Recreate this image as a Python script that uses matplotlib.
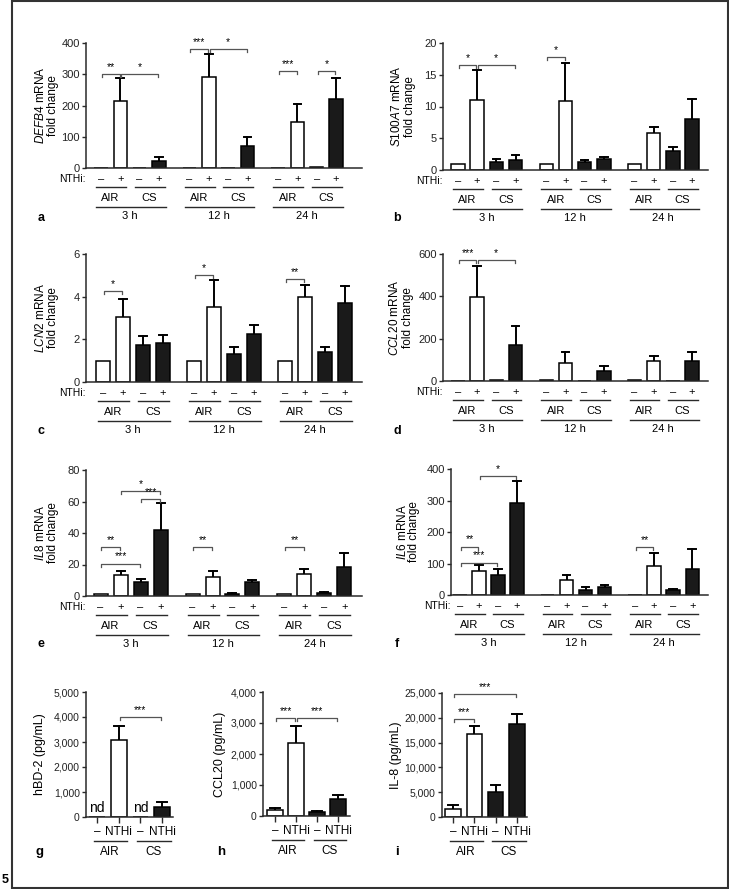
import numpy as np
import matplotlib
matplotlib.use('Agg')
import matplotlib.pyplot as plt
from matplotlib import transforms
from matplotlib.patches import Rectangle
from matplotlib.ticker import FuncFormatter

plt.rcParams['font.family'] = ['Liberation Sans', 'DejaVu Sans']
plt.rcParams['mathtext.fontset'] = 'custom'
plt.rcParams['mathtext.rm'] = 'Liberation Sans'
plt.rcParams['mathtext.it'] = 'Liberation Sans:italic'

# ---- data ----
hours = ['3 h', '12 h', '24 h']
groups = ['AIR', 'CS']
nthi_signs = ['–', '+', '–', '+']
nthi_labels = ['–', 'NTHi', '–', 'NTHi']

defb4_mean = [1, 214, 1, 23, 1, 291, 1, 72, 1, 147, 2, 221]
defb4_upper = [1, 289, 1, 35, 1, 364, 1, 98, 1, 205, 2, 288]

s100a7_mean = [1, 11.05, 1.3, 1.6, 1, 10.9, 1.2, 1.8, 1, 5.8, 3.0, 8.0]
s100a7_upper = [1, 15.8, 1.8, 2.3, 1, 16.8, 1.5, 2.1, 1, 6.8, 3.7, 11.2]

lcn2_mean = [1, 3.03, 1.74, 1.84, 1, 3.5, 1.29, 2.24, 1, 3.97, 1.41, 3.69]
lcn2_upper = [1, 3.88, 2.17, 2.2, 1, 4.76, 1.65, 2.67, 1, 4.55, 1.62, 4.5]

ccl20_mean = [2, 396, 5, 169, 3, 85, 1, 49, 4, 93, 2, 95]
ccl20_upper = [2, 541, 5, 261, 3, 138, 1, 70, 4, 119, 2, 136]

il8_mean = [1, 13.4, 8.7, 41.6, 1, 12.1, 1.5, 9.1, 1, 14.0, 2.1, 18.3]
il8_upper = [1, 15.9, 10.8, 58.8, 1, 15.7, 1.7, 10.2, 1, 17.2, 2.3, 27.0]

il6_mean = [1, 77.5, 62.6, 292.8, 1, 48.8, 17, 24.4, 1, 93.4, 14.9, 81.7]
il6_upper = [1, 94.4, 82.8, 362.9, 1, 64.7, 24.4, 33, 1, 133.7, 19, 146.4]

hbd2_mean = [np.nan, 3083, np.nan, 402]
hbd2_upper = [np.nan, 3660, np.nan, 603]

ccl20p_mean = [183, 2340, 119, 550]
ccl20p_upper = [248, 2900, 151, 668]

il8p_mean = [1613, 16800, 4973, 18750]
il8p_upper = [2419, 18280, 6452, 20830]

# significance brackets: (bar i, bar j, height, stars)
defb4_sig = [(0, 1, 302, '**'), (1, 3, 302, '*'), (4, 5, 382, '***'), (5, 7, 382, '*'),
             (8, 9, 310, '***'), (10, 11, 310, '*')]
s100a7_sig = [(0, 1, 16.6, '*'), (1, 3, 16.6, '*'), (4, 5, 17.8, '*')]
lcn2_sig = [(0, 1, 4.25, '*'), (4, 5, 5.02, '*'), (8, 9, 4.83, '**')]
ccl20_sig = [(0, 1, 573, '***'), (1, 3, 573, '*')]
il8_sig = [(0, 1, 31, '**'), (0, 2, 20.6, '***'), (2, 3, 61.6, '***'), (1, 3, 66.7, '*'),
           (4, 5, 31, '**'), (8, 9, 31, '**')]
il6_sig = [(0, 1, 153.8, '**'), (0, 2, 103, '***'), (1, 3, 376.7, '*'), (8, 9, 151.7, '**')]
hbd2_sig = [(1, 3, 3981, '***')]
ccl20p_sig = [(0, 1, 3148, '***'), (1, 3, 3148, '***')]
il8p_sig = [(0, 1, 19825, '***'), (0, 3, 24800, '***')]

pos = [0, 1, 2, 3, 4.6, 5.6, 6.6, 7.6, 9.2, 10.2, 11.2, 12.2]
pos4 = [0, 1, 2, 3]
fills = ['white', 'white', '#1a1a1a', '#1a1a1a']

W, H = 729, 889
fig = plt.figure(figsize=(W / 100, H / 100), dpi=100)
INK = '#2a2a2a'


def px_axes(x0, y0, x1, y1):
    return fig.add_axes([x0 / W, 1 - y1 / H, (x1 - x0) / W, (y1 - y0) / H])


def fig_text(x, y, s, **kw):
    fig.text(x / W, 1 - y / H, s, **kw)


def style(ax, ymax, ystep, fs):
    ax.set_ylim(0, ymax)
    ax.set_yticks(np.arange(0, ymax + ystep / 2, ystep))
    for s in ['top', 'right']:
        ax.spines[s].set_visible(False)
    for s in ['left', 'bottom']:
        ax.spines[s].set_linewidth(1.1)
        ax.spines[s].set_color(INK)
    ax.tick_params(axis='y', direction='out', length=3, width=1.0, color=INK,
                   labelsize=fs, pad=1.5, labelcolor='#222')


def draw_bars(ax, xs, mean, upper, ymax, hpx, colors, width=0.7, cap=0.2):
    ax.bar(xs, np.nan_to_num(mean), width=width, color=colors, edgecolor='black',
           linewidth=1.1, zorder=2)
    for p, m, u in zip(xs, mean, upper):
        if np.isnan(m) or u <= m:
            continue
        ax.plot([p, p], [m, u], color='black', lw=1.4, zorder=1)
        ax.plot([p - cap, p + cap], [u, u], color='black', lw=1.4, zorder=1)


def draw_sig(ax, xs, sigs, ymax, hpx):
    d = 3.0 / hpx * ymax
    for i, j, y, txt in sigs:
        x1, x2 = xs[i] + 0.04, xs[j] - 0.04
        ax.plot([x1, x1, x2, x2], [y - d, y, y, y - d], color='#555', lw=0.9,
                clip_on=False)
        ax.text((x1 + x2) / 2, y + 2.0 / hpx * ymax, txt, ha='center', va='bottom',
                fontsize=7.5, clip_on=False)


def gene_panel(box, mean, upper, ymax, ystep, gene, label_x, sigs, xlim, letter, letter_xy):
    x0, y0, x1, y1 = box
    hpx = y1 - y0
    ax = px_axes(*box)
    style(ax, ymax, ystep, 8)
    ax.set_xlim(*xlim)
    ax.set_xticks([])
    draw_bars(ax, pos, mean, upper, ymax, hpx, fills * 3)
    draw_sig(ax, pos, sigs, ymax, hpx)

    tr = transforms.blended_transform_factory(ax.transData, ax.transAxes)

    def fy(dy):
        return -dy / hpx

    ax.text(0.0, fy(11), 'NTHi:', transform=ax.transAxes, ha='right', va='center',
            fontsize=7.5)
    for p, s in zip(pos, nthi_signs * 3):
        ax.text(p, fy(11), s, transform=tr, ha='center', va='center', fontsize=8)
    for g in range(3):
        gp = pos[4 * g:4 * g + 4]
        for k, name in enumerate(groups):
            a, b = gp[2 * k], gp[2 * k + 1]
            ax.plot([a - 0.25, b + 0.3], [fy(19), fy(19)], transform=tr, color=INK,
                    lw=1.0, clip_on=False)
            ax.text((a + b) / 2, fy(30), name, transform=tr, ha='center', va='center',
                    fontsize=8)
        ax.plot([gp[0] - 0.25, gp[3] + 0.35], [fy(39), fy(39)], transform=tr, color=INK,
                lw=1.0, clip_on=False)
        ax.text((gp[0] + gp[3]) / 2, fy(48), hours[g], transform=tr, ha='center',
                va='center', fontsize=8)

    fig_text(label_x, (y0 + y1) / 2, r'$\mathit{' + gene + '}$ mRNA\nfold change',
             rotation=90, ha='center', va='center', fontsize=8.5, multialignment='center',
             linespacing=1.0)
    fig_text(letter_xy[0], letter_xy[1], letter, fontsize=9, fontweight='bold',
             ha='center', va='center')
    return ax


def protein_panel(box, mean, upper, ymax, ystep, ylabel, label_x, sigs, xlim, letter,
                  letter_xy, nd=False):
    x0, y0, x1, y1 = box
    hpx = y1 - y0
    ax = px_axes(*box)
    style(ax, ymax, ystep, 7.5)
    ax.yaxis.set_major_formatter(FuncFormatter(lambda v, _: f'{int(v):,}'))
    ax.set_xlim(*xlim)
    ax.set_xticks(pos4)
    ax.set_xticklabels([])
    ax.tick_params(axis='x', direction='out', length=4, width=1.0, color=INK)
    draw_bars(ax, pos4, mean, upper, ymax, hpx, fills, width=0.72, cap=0.22)
    draw_sig(ax, pos4, sigs, ymax, hpx)
    if nd:
        for p, m in zip(pos4, mean):
            if np.isnan(m):
                ax.text(p, 2.0 / hpx * ymax, 'nd', ha='center', va='bottom', fontsize=10)

    tr = transforms.blended_transform_factory(ax.transData, ax.transAxes)

    def fy(dy):
        return -dy / hpx

    for p, s in zip(pos4, nthi_labels):
        ax.text(p, fy(15), s, transform=tr, ha='center', va='center', fontsize=8.5)
    for k, name in enumerate(groups):
        a, b = pos4[2 * k], pos4[2 * k + 1]
        ax.plot([a - 0.15, b + 0.4], [fy(24), fy(24)], transform=tr, color=INK, lw=1.0,
                clip_on=False)
        ax.text((a + b) / 2 + 0.1, fy(35), name, transform=tr, ha='center', va='center',
                fontsize=8.5)

    fig_text(label_x, (y0 + y1) / 2, ylabel, rotation=90, ha='center', va='center',
             fontsize=9)
    fig_text(letter_xy[0], letter_xy[1], letter, fontsize=9.5, fontweight='bold',
             ha='center', va='center')
    return ax


gene_panel((86, 43, 362, 168), defb4_mean, defb4_upper, 400, 100, 'DEFB4', 47,
           defb4_sig, (-0.78, 13.55), 'a', (41, 218))
gene_panel((443, 43, 708, 170), s100a7_mean, s100a7_upper, 20, 5, 'S100A7', 403,
           s100a7_sig, (-0.78, 13.03), 'b', (397, 218))
gene_panel((86, 254, 362, 382), lcn2_mean, lcn2_upper, 6, 2, 'LCN2', 47,
           lcn2_sig, (-0.88, 13.08), 'c', (41, 431))
gene_panel((443, 254, 708, 381), ccl20_mean, ccl20_upper, 600, 200, 'CCL20', 401,
           ccl20_sig, (-0.78, 13.03), 'd', (397, 431))
gene_panel((86, 470, 362, 596), il8_mean, il8_upper, 80, 20, 'IL8', 47,
           il8_sig, (-0.73, 13.08), 'e', (41, 644))
gene_panel((451, 469, 708, 595), il6_mean, il6_upper, 400, 100, 'IL6', 408,
           il6_sig, (-0.47, 13.03), 'f', (397, 644))

protein_panel((86, 692, 173, 817), hbd2_mean, hbd2_upper, 5000, 1000, 'hBD-2 (pg/mL)', 40,
              hbd2_sig, (-0.51, 3.5), 'g', (40, 852), nd=True)
protein_panel((263, 692, 350, 816), ccl20p_mean, ccl20p_upper, 4000, 1000,
              'CCL20 (pg/mL)', 220, ccl20p_sig, (-0.57, 3.57), 'h', (221, 852))
protein_panel((442, 693, 527, 817), il8p_mean, il8p_upper, 25000, 5000, 'IL-8 (pg/mL)', 396,
              il8p_sig, (-0.52, 3.47), 'i', (397, 852))

# outer frame and figure number
fig.patches.append(Rectangle((12 / W, 1 - 888 / H), 716 / W, 887 / H, transform=fig.transFigure,
                             fill=False, lw=1.5, ec='#333'))
fig_text(5, 880, '5', fontsize=9, fontweight='bold', ha='center', va='center')

fig.savefig('out.png', dpi=100)
